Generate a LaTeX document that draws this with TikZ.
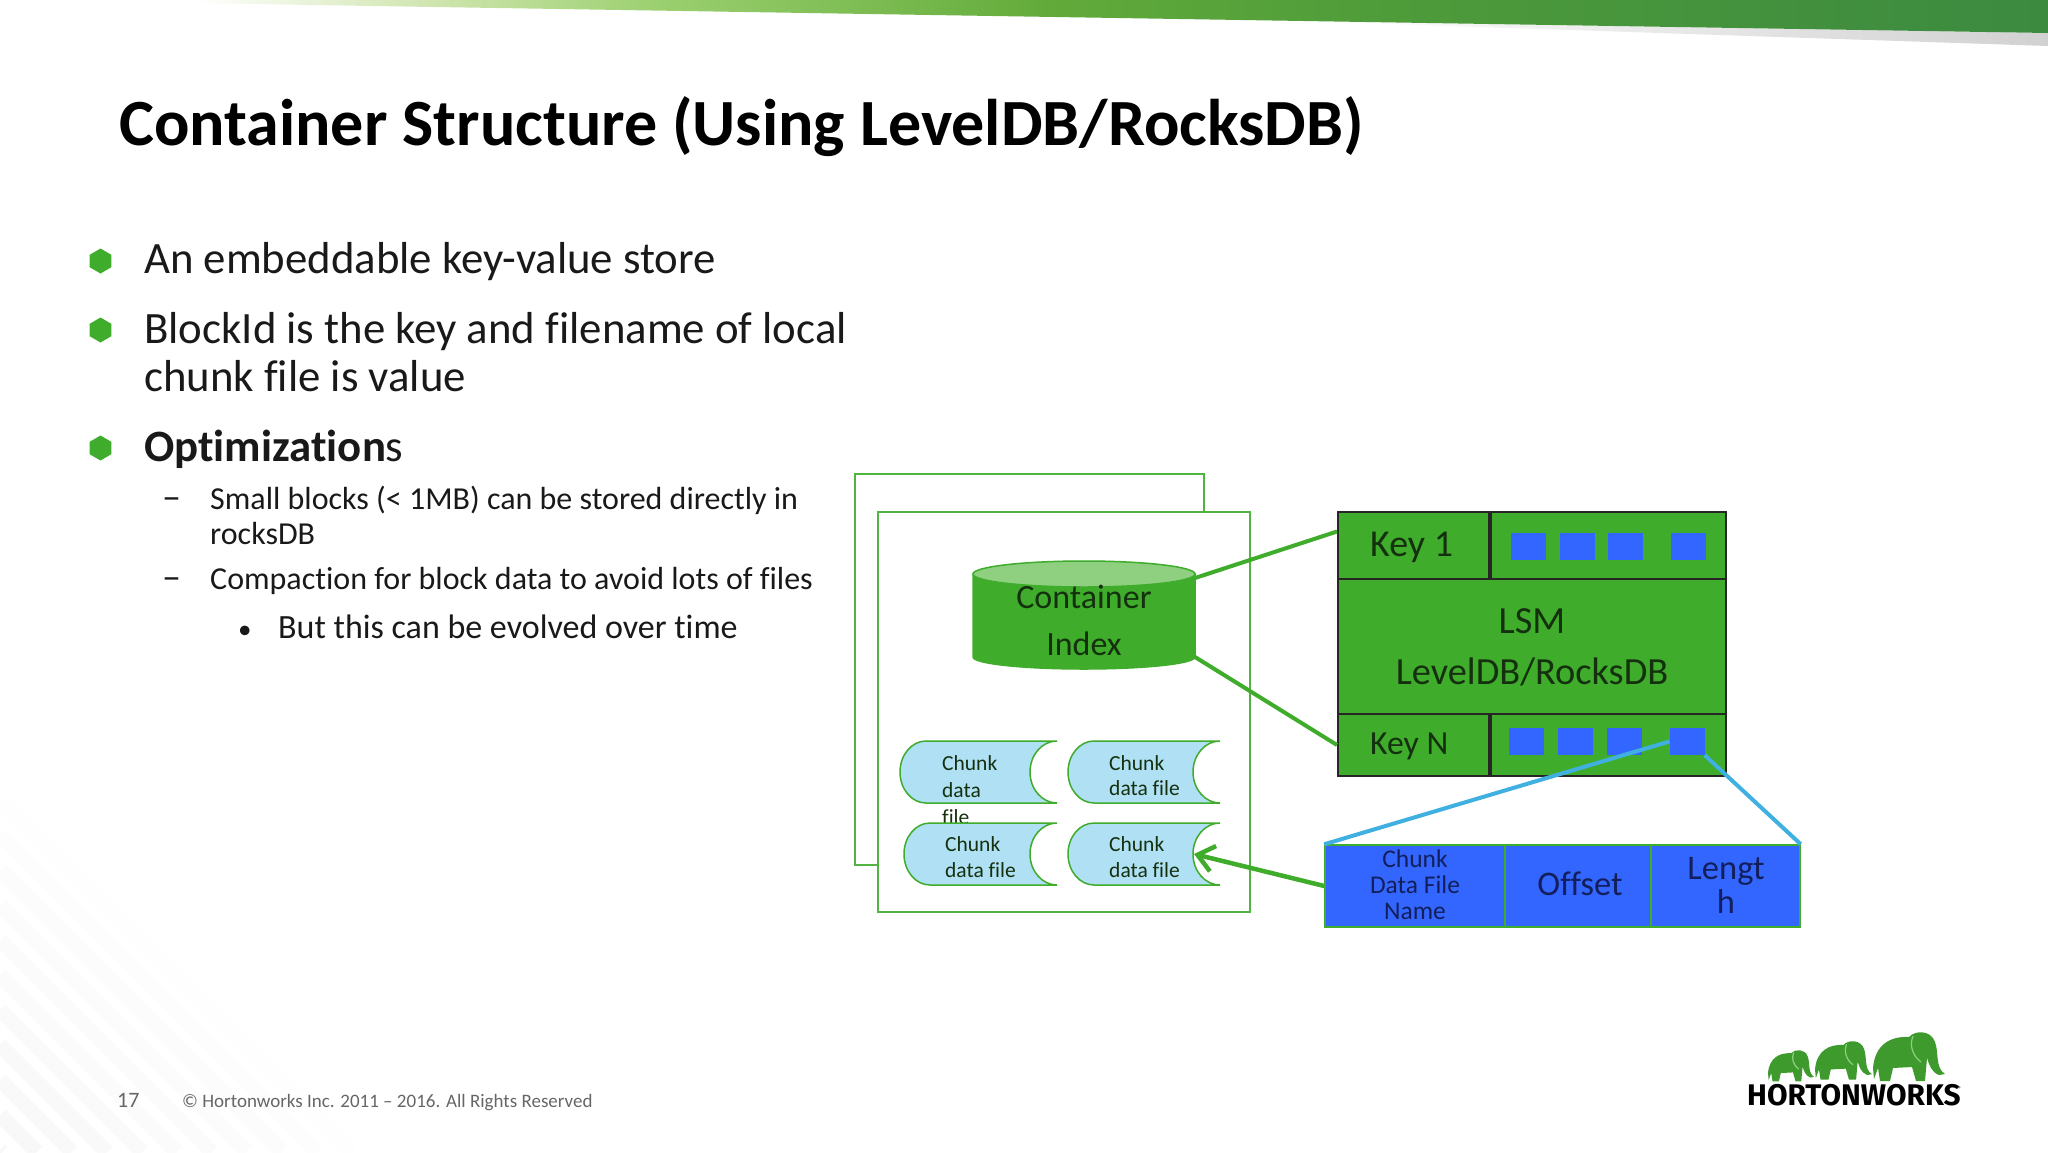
\documentclass[tikz,border=0pt]{standalone}
\usepackage{fontspec}
\setmainfont{Carlito}[Ligatures={TeX,NoCommon}]
\newfontfamily\logofont{Fira Sans}
\usepackage{tikz}
\usetikzlibrary{positioning,arrows.meta,shapes.geometric,calc}

\definecolor{hwgreen}{HTML}{3FAC2B}
\definecolor{hwlight}{HTML}{8FD080}
\definecolor{hwblue}{HTML}{3366FF}
\definecolor{hwcyan}{HTML}{3FB0E0}
\definecolor{hwchunk}{HTML}{B0E0F4}
\definecolor{hwink}{HTML}{14300F}
\definecolor{hwnavy}{HTML}{121F5C}
\definecolor{hwlogo}{HTML}{3E9A2C}
\definecolor{barfade}{HTML}{D6E8B8}
\definecolor{barmid}{HTML}{9CD070}
\definecolor{barleaf}{HTML}{62AB3A}
\definecolor{bardeep}{HTML}{4E9B3A}
\definecolor{barend}{HTML}{3B8A40}

\pgfdeclarehorizontalshading{barshade}{100bp}{color(0bp)=(white); color(29.8bp)=(white); color(34.8bp)=(barfade); color(41bp)=(barmid); color(50.5bp)=(barleaf); color(59bp)=(bardeep); color(75bp)=(barend); color(100bp)=(barend)}

\begin{document}
\begin{tikzpicture}[
    x=1pt, y=-1pt,
    title/.style={anchor=base west, inner sep=0pt, font=\fontsize{66}{66}\selectfont\bfseries, text=black},
    bigtext/.style={anchor=base west, inner sep=0pt, font=\fontsize{44.8}{44.8}\selectfont, text=black!90},
    subtext/.style={anchor=base west, inner sep=0pt, font=\fontsize{32}{32}\selectfont, text=black!90},
    hexbullet/.style={regular polygon, regular polygon sides=6, shape border rotate=30, fill=hwgreen, inner sep=0pt, minimum size=25pt},
    page/.style={rectangle, draw=hwgreen!90!white, line width=2pt, fill=white, inner sep=0pt},
    keycell/.style={rectangle, draw=black!85, line width=2pt, fill=hwgreen, inner sep=0pt},
    keytext/.style={anchor=base west, inner sep=0pt, font=\fontsize{38}{38}\selectfont, text=hwink},
    lsmtext/.style={anchor=base, inner sep=0pt, font=\fontsize{38.4}{38.4}\selectfont, text=hwink},
    slot/.style={rectangle, fill=hwblue, inner sep=0pt, minimum width=35pt, minimum height=27pt},
    reccell/.style={rectangle, draw=hwgreen, line width=1.5pt, fill=hwblue, inner sep=0pt, minimum height=82pt},
    rectext/.style={anchor=base, inner sep=0pt, text=hwnavy},
    chunkfile/.style={draw=hwgreen, line width=1.5pt, fill=hwchunk},
    chunktext/.style={anchor=base west, inner sep=0pt, font=\fontsize{21.5}{21.5}\selectfont, text=hwink},
    greenline/.style={draw=hwgreen, line width=4pt},
    greenarrow/.style={draw=hwgreen, line width=4.5pt, -{Straight Barb[length=16pt,width=26pt]}},
    cyanline/.style={draw=hwcyan, line width=4pt},
    stripe/.style={line width=15pt},
]
\useasboundingbox (0,0) rectangle (2048,1152);

% --- BACKGROUND STRIPES ---
\foreach \yy [evaluate=\yy as \pct using {0.5+2.5*(\yy-800)/352}] in {800,835,...,1150} {
  \draw[stripe, black!\pct] (0,\yy) -- (1152-\yy,1152);
}

% --- TOP BAR ---
\path[left color=white, right color=black!18] (1300,21) -- (2048,33) -- (2048,46) -- cycle;
\path[shading=barshade] (0,0) -- (2048,0) -- (2048,33) -- cycle;

% --- TITLE AND BULLETS ---
\node[title] (title) at (119,145) {Container Structure (Using LevelDB/RocksDB)};

\node[hexbullet] (hexa) at (100.5,261) {};
\node[hexbullet] (hexb) at (100.5,330) {};
\node[hexbullet] (hexc) at (100.5,448) {};
\node[bigtext] (linea) at (144,273) {An embeddable key-value store};
\node[bigtext] (lineb) at (144,343) {BlockId is the key and filename of local};
\node[bigtext] (linec) at (144,391) {chunk file is value};
\node[bigtext] (lined) at (144,461) {\textbf{Optimization}s};

\node[subtext] (dasha) at (162,509) {\fontsize{38}{38}\selectfont --};
\node[subtext] (linee) at (210,509) {Small blocks (< 1MB) can be stored directly in};
\node[subtext] (linef) at (210,544) {rocksDB};
\node[subtext] (dashb) at (162,589) {\fontsize{38}{38}\selectfont --};
\node[subtext] (lineg) at (210,589) {Compaction for block data to avoid lots of files};
\node[subtext] (doth)  at (238,638) {\fontsize{27}{27}\selectfont\textbullet};
\node[subtext, font=\fontsize{34}{34}\selectfont] (lineh) at (278,638) {But this can be evolved over time};

% --- CONTAINER PAGES ---
\node[page, minimum width=349pt, minimum height=391pt] (backpage) at (1029.5,669.5) {};
\node[page, minimum width=372pt, minimum height=400pt] (frontpage) at (1064,712) {};

% --- INDEX CYLINDER ---
\draw[hwgreen, line width=1.5pt, fill=hwgreen] (973,574) -- (973,657)
    arc[start angle=180, end angle=0, x radius=111, y radius=12] -- (1195,574) -- cycle;
\draw[hwgreen, line width=1.5pt, fill=hwlight] (1084,574) ellipse[x radius=111, y radius=13];
\node[lsmtext, font=\fontsize{34}{34}\selectfont] (indexa) at (1084,608) {Container};
\node[lsmtext, font=\fontsize{34}{34}\selectfont] (indexb) at (1084,655) {Index};

% --- CHUNK FILES ---
\foreach \nm/\lx/\ty/\rx/\ix/\tx/\by/\sp/\txt in {
    ca/900/741/1057/1030/942/770/27/{Chunk,data,file},
    cb/1068/741/1220/1194/1109/770/25/{Chunk,data file},
    cc/904/823/1057/1030/945/851/26/{Chunk,data file},
    cd/1068/823/1220/1194/1109/851/26/{Chunk,data file}} {
  \draw[chunkfile] (\rx,\ty) arc[start angle=270, end angle=90, x radius=27, y radius=31]
      -- (\lx+26,\ty+62) arc[start angle=90, end angle=270, x radius=26, y radius=31] -- cycle;
  \coordinate (\nm) at (\ix,\ty+31);
  \foreach \ln [count=\i] in \txt {
    \node[chunktext] (\nm t\i) at (\tx,{\by+(\i-1)*\sp}) {\ln};
  }
}

% --- LSM TABLE ---
\node[keycell, minimum width=151pt, minimum height=67pt] (key1) at (1413.5,545.5) {};
\node[keycell, minimum width=237pt, minimum height=67pt] (val1) at (1607.5,545.5) {};
\node[keycell, minimum width=388pt, minimum height=135pt] (lsm) at (1532,646.5) {};
\node[keycell, minimum width=151pt, minimum height=62pt] (keyN) at (1413.5,745) {};
\node[keycell, minimum width=237pt, minimum height=62pt] (valN) at (1607.5,745) {};
\draw[black!85, line width=4pt] (key1.north east) -- (key1.south east);
\draw[black!85, line width=4pt] (keyN.north east) -- (keyN.south east);

\node[keytext] (key1t) at (1370,556) {Key 1};
\node[keytext, font=\fontsize{33.7}{33.7}\selectfont] (keyNt) at (1370,754) {Key N};
\node[lsmtext] (lsma) at (1532,633) {LSM};
\node[lsmtext] (lsmb) at (1532,684) {LevelDB/RocksDB};

\foreach \i/\x in {1/1528.5,2/1577.5,3/1625.5,4/1688.5} {
  \node[slot] (ka\i) at (\x,546.5) {};
}
\foreach \i/\x in {1/1526.5,2/1575.5,3/1624.5,4/1687} {
  \node[slot] (kb\i) at (\x,741.5) {};
}

% --- RECORD ---
\node[reccell, minimum width=180pt] (recname) at (1415,886) {};
\node[reccell, minimum width=146pt] (recoff) at (1578,886) {};
\node[reccell, minimum width=149pt] (reclen) at (1725.5,886) {};
\node[rectext, font=\fontsize{25.5}{25.5}\selectfont] (recna) at (1415,867) {Chunk};
\node[rectext, font=\fontsize{25.5}{25.5}\selectfont] (recnb) at (1415,893) {Data File};
\node[rectext, font=\fontsize{25.5}{25.5}\selectfont] (recnc) at (1415,919) {Name};
\node[rectext, font=\fontsize{34.5}{34.5}\selectfont] (recot) at (1580,895) {Offset};
\node[rectext, font=\fontsize{34.5}{34.5}\selectfont] (recla) at (1726,879) {Lengt};
\node[rectext, font=\fontsize{34.5}{34.5}\selectfont] (reclb) at (1726,913) {h};

% --- CONNECTORS ---
\coordinate (indexup) at (1195,578);
\coordinate (indexdn) at (1195,657);
\coordinate (key1in) at ($(key1.west)+(0,-14)$);
\draw[greenline] (indexup) -- (key1in);
\draw[greenline] (indexdn) -- (keyN.west);
\draw[greenarrow] (recname.west) -- (cd);
\draw[cyanline] (recname.north west) -- (kb4.west);
\draw[cyanline] (kb4.south east) -- (reclen.north east);

% --- FOOTER ---
\node[anchor=base west, inner sep=0pt, font=\fontsize{22}{22}\selectfont, text=black!60] (pageno) at (117,1107) {17};
\node[anchor=base west, inner sep=0pt, font=\fontsize{19}{19}\selectfont, text=black!60] (copy) at (182,1107) {© Hortonworks Inc. 2011 – 2016. All Rights Reserved};

% --- LOGO ---
\foreach \nm/\ox/\oy/\sc in {ela/1768/1050/0.64, elb/1815/1041/0.79, elc/1873/1032/1} {
  \fill[hwlogo, shift={(\ox,\oy)}, scale=\sc]
     (0,36) .. controls (2,12) and (18,4) .. (36,5)
     .. controls (42,-2) and (58,-2) .. (62,10)
     .. controls (66,20) and (62,36) .. (72,42)
     -- (66,43) .. controls (58,40) and (56,32) .. (54,26)
     -- (52,49) -- (43,49) -- (39,35) -- (20,36) -- (17,49) -- (7,49) -- (5,36) -- (1,47) -- cycle;
  \draw[hwlight, line width=1.2pt, shift={(\ox,\oy)}, scale=\sc]
     (40,4) .. controls (36,14) and (40,24) .. (48,30);
}
\node[anchor=base west, inner sep=0pt, font=\logofont\fontsize{29.8}{29.8}\selectfont\bfseries, text=black] (logo) at (1747,1105) {HORTONWORKS};
\node[anchor=base west, inner sep=0pt, font=\fontsize{7}{7}\selectfont, text=black] (logor) at (1958,1091) {®};
\end{tikzpicture}
\end{document}
